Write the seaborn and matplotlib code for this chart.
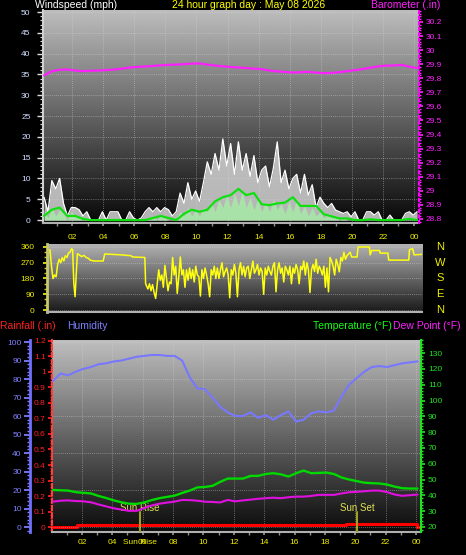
import numpy as np
import seaborn as sns
import matplotlib.pyplot as plt
import matplotlib.transforms as mtrans
from matplotlib.ticker import MultipleLocator, FuncFormatter

W, H = 466, 555

# --- wind, 15 minute samples starting 00:12 (mph) ---
gust_mph = [5.5, 2, 9.5, 7.5, 10, 4, 1, 3, 3, 2.5,
            1, 2, 0, 0, 0, 2, 0, 2, 2, 2,
            0, 0, 2, 0.5, 0, 0.5, 2, 3, 2, 3,
            2, 3, 2.5, 1, 2, 6.5, 4, 9, 5, 7,
            4.5, 9, 14, 11, 16, 12, 19.5, 13, 18.4, 11,
            18.8, 12, 16, 10.5, 15.5, 9, 12, 13, 8, 12.5,
            18.8, 9, 12, 7.5, 10, 11, 6.5, 11, 6, 8.5,
            3, 5.5, 4, 3, 4, 2.4, 2, 1.6, 2, 0.8,
            2, 0, 0, 2, 2, 1.2, 2, 0, 0, 1.2,
            0, 0, 0, 1.6, 2, 1.2, 2]
wind_mph = [2.5, 0.5, 3, 1, 2.5, 1.5, 0, 2, 1, 0.5,
            0, 0.5, 0, 0, 0, 0, 0, 0, 0, 0,
            0, 0, 0, 0, 0, 0, 0, 0.5, 1, 0,
            1, 0.5, 0, 0, 0.5, 2, 1, 3, 1, 2.5,
            1, 3, 2, 4.5, 2, 5, 3, 6, 3, 6.5,
            3.5, 7, 3, 5.5, 2.5, 5, 2, 4.5, 2, 5,
            2.5, 4, 1.5, 4.5, 2, 5, 1.5, 3.5, 1, 3,
            1, 2, 0.5, 1.5, 0.5, 1, 0, 0.5, 0, 0,
            0, 0, 0, 0, 0, 0, 0, 0, 0, 0,
            0, 0, 0, 0, 0, 0, 0]

# --- 30 minute samples starting 00:12 ---
avg_wind_mph = [1, 2.5, 3, 1, 1, 0.3, 0, 0, 0, 0,
                0, 0, 0, 0, 0.5, 1, 0.5, 0, 1.5, 2.5,
                2, 2.5, 4.5, 5.5, 6, 7.5, 6, 6.5, 3.8, 3.6,
                4, 4.2, 5.5, 3.4, 3.4, 3.4, 1.4, 0.9, 0.4, 0.4,
                0, 0, 0.2, 0, 0, 0, 0, 0.3, 0]
barometer_in = [29.82, 29.85, 29.86, 29.862, 29.855, 29.85, 29.853, 29.855, 29.858, 29.862,
                29.868, 29.876, 29.88, 29.884, 29.887, 29.892, 29.895, 29.897, 29.9, 29.904,
                29.905, 29.897, 29.89, 29.885, 29.88, 29.876, 29.873, 29.868, 29.865, 29.855,
                29.848, 29.845, 29.84, 29.843, 29.845, 29.84, 29.836, 29.838, 29.843, 29.85,
                29.858, 29.865, 29.875, 29.884, 29.89, 29.89, 29.895, 29.882, 29.872]

# --- wind direction (degrees) ---
dir_early_h = [0.15, 0.25, 0.35, 0.45, 0.55, 0.65, 0.75, 0.85, 0.95, 1.05,
               1.15, 1.25, 1.35, 1.45, 1.55, 1.62, 1.7, 1.78, 1.85, 1.93,
               2.05, 2.2, 2.35, 2.5, 2.65, 2.75, 3.0, 3.6, 3.7, 4.2,
               4.8, 5.4, 5.5, 6.3, 6.35]
dir_early_deg = [345, 250, 180, 200, 190, 260, 290, 270, 300, 280,
                 310, 300, 325, 330, 350, 345, 150, 76, 200, 322,
                 315, 305, 312, 300, 295, 285, 280, 280, 320, 318,
                 315, 310, 303, 300, 150]
# 6 minute samples from 06:24 to 19:36
dir_mid_deg = [140, 120, 150, 110, 145, 100,
               66, 150, 230, 170, 200, 130, 255, 180, 110, 160,
               150, 300, 200, 250, 95, 190, 303, 200, 230, 130,
               230, 170, 240, 180, 230, 160, 250, 200, 190, 80,
               230, 180, 240, 200, 150, 76, 230, 200, 250, 180,
               240, 180, 230, 270, 190, 220, 240, 200, 70, 230,
               200, 260, 210, 76, 230, 270, 200, 250, 190, 240,
               250, 180, 230, 280, 210, 230, 260, 200, 240, 220,
               90, 240, 200, 250, 220, 200, 250, 270, 104, 230,
               270, 210, 240, 160, 250, 230, 200, 250, 150, 240,
               210, 260, 230, 150, 250, 230, 280, 200, 270, 230,
               100, 230, 260, 220, 290, 210, 250, 230, 200, 250,
               130, 240, 104, 300, 280, 250, 200, 290, 260, 218,
               300, 280, 330, 290, 310, 320, 330]
dir_late_h = [19.7, 20.05, 20.12, 20.85, 20.9, 21.0, 21.5, 21.55, 22.05, 22.1,
              23.4, 23.45, 23.65, 23.75, 24.25]
dir_late_deg = [303, 303, 360, 360, 315, 340, 340, 325, 325, 285,
                285, 345, 350, 315, 318]

# --- 30 minute samples starting 00:06 ---
humidity_pct = [79, 83, 82, 84, 85.5, 86.5, 88, 88.5, 89.5, 90,
                91, 92, 92.5, 93, 93, 92.5, 92.5, 90, 81, 75,
                74.5, 70, 65, 62, 60, 60, 62, 59, 60.5, 58,
                60.5, 62.5, 57, 58, 61.5, 62.5, 62, 63, 70.5, 77,
                80.5, 84, 86.5, 87, 86.5, 87.5, 88.5, 89, 89.5]
temp_f = [43.4, 43.2, 43, 42, 41.6, 41.2, 39.6, 38.3, 36.8, 35.6,
          34.7, 34.6, 35.5, 37, 38.2, 39, 39.8, 41.5, 43, 45,
          45.3, 46, 48.5, 50.6, 50.6, 50.6, 52.3, 52.3, 53.5, 54,
          53.3, 51.9, 54, 55.7, 54, 54.2, 54.4, 53.5, 51.3, 50,
          49, 48, 47.7, 47.5, 46.8, 45.5, 44.5, 44.3, 44.3]
dew_f = [36, 36.6, 36.8, 36.4, 36.2, 35.6, 34.2, 33, 31.8, 31,
         30.2, 30.2, 32, 33.6, 34.7, 35.4, 36, 37.1, 37, 36.6,
         36, 35.8, 35.5, 37.1, 36.2, 36.8, 37.3, 37.8, 38.2, 38.5,
         38.2, 38.8, 39.2, 39.2, 39.6, 40.3, 40.3, 40.3, 41.2, 42,
         42.2, 42.6, 43, 43, 42, 40.5, 39.7, 40.1, 40.5]

rain_h = [0.05, 1.65, 19.4, 24.05, 24.3]
rain_in = [0, 0.01, 0.02, 0, 0]

sun_rise_h = 5.82
sun_set_h = 20.12

hour_ticks = list(range(2, 25, 2))
hour_labels = ['02', '04', '06', '08', '10', '12', '14', '16', '18', '20', '22', '00']
dir_ticks = [0, 90, 180, 270, 360]
compass = ['N', 'E', 'S', 'W', 'N']

# time axes for the sampled series
q_h = 0.2 + 0.25 * np.arange(len(gust_mph))
half_h = 0.2 + 0.5 * np.arange(len(avg_wind_mph))
th_h = 0.1 + 0.5 * np.arange(len(humidity_pct))
dir_h = np.concatenate([dir_early_h, 6.4 + 0.1 * np.arange(len(dir_mid_deg)), dir_late_h])
dir_deg = np.concatenate([dir_early_deg, dir_mid_deg, dir_late_deg])

sns.set_theme(style="dark", rc={"axes.facecolor": "black", "figure.facecolor": "black"})
plt.rcParams['font.family'] = ['Liberation Sans', 'DejaVu Sans']


def box(left, top, right, bottom):
    return [left / W, 1 - bottom / H, (right - left) / W, (bottom - top) / H]


def shade(ax, top, bottom):
    grad = np.linspace(top, bottom, 256).reshape(-1, 1)
    ax.imshow(grad, cmap='gray', vmin=0, vmax=1, aspect='auto',
              extent=(0, 1, 0, 1), transform=ax.transAxes, zorder=0)


def keep_spines(ax, keep):
    for name, sp in ax.spines.items():
        sp.set_visible(name in keep)


num_fmt = FuncFormatter(lambda v, p: f'{round(v, 2):g}')
grid_kw = dict(color='#d8d8d8', linestyle=(0, (1, 1.5)), linewidth=0.6, alpha=0.55)

fig = plt.figure(figsize=(W / 100, H / 100), dpi=100, facecolor='black')

# ---------------- panel 1: wind speed + barometer ----------------
ax1 = fig.add_axes(box(43, 10, 419, 223))
shade(ax1, 0.74, 0.03)
ax1.fill_between(q_h, gust_mph, 0, color='#d4d4d4', alpha=0.85, lw=0, zorder=2)
sns.lineplot(x=q_h, y=gust_mph, ax=ax1, color='white', lw=0.9, zorder=3, estimator=None)
ax1.fill_between(q_h, wind_mph, 0, color='#a8e8a8', alpha=0.9, lw=0, zorder=4)
sns.lineplot(x=half_h, y=avg_wind_mph, ax=ax1, color='#10e010', lw=1.6, zorder=5, estimator=None)
ax1.set_xlim(0.13, 24.32)
ax1.set_ylim(-0.7, 50.5)
ax1.yaxis.set_major_locator(MultipleLocator(5))
ax1.yaxis.set_minor_locator(MultipleLocator(1))
ax1.set_xticks(hour_ticks, hour_labels)
ax1.xaxis.set_minor_locator(MultipleLocator(1))
ax1.tick_params(axis='y', which='major', color='#e0e0e0', labelcolor='#d4e0ff',
                length=4, width=1, labelsize=6, pad=5, left=True)
ax1.tick_params(axis='y', which='minor', color='#e0e0e0', length=2, width=0.8, left=True)
ax1.tick_params(axis='x', which='both', color='#909090', labelcolor='#f0f000',
                length=2, labelsize=6, pad=6, bottom=True)
ax1.grid(True, which='major', **grid_kw)
ax1.set(xlabel='', ylabel='')
keep_spines(ax1, ['left', 'bottom'])
ax1.spines['left'].set_color('#d0d0d0')
ax1.spines['left'].set_linewidth(1.5)
ax1.spines['bottom'].set_color('#b0b0b0')
ax1.spines['bottom'].set_linewidth(1.5)

ax1b = ax1.twinx()
sns.lineplot(x=half_h, y=barometer_in, ax=ax1b, color='#ff20ff', lw=1.6, estimator=None)
ax1b.set_ylim(28.771, 30.285)
ax1b.yaxis.set_major_locator(MultipleLocator(0.1))
ax1b.yaxis.set_minor_locator(MultipleLocator(0.02))
ax1b.yaxis.set_major_formatter(num_fmt)
ax1b.tick_params(axis='y', which='major', colors='#ff20ff', length=3, labelsize=6, pad=1.5, right=True)
ax1b.tick_params(axis='y', which='minor', colors='#ff20ff', length=1.5, right=True)
ax1b.grid(False)
ax1b.set(xlabel='', ylabel='')
keep_spines(ax1b, ['right'])
ax1b.spines['right'].set_color('#ff00ff')
ax1b.spines['right'].set_linestyle(':')
ax1b.spines['right'].set_linewidth(1.5)

# ---------------- panel 2: wind direction ----------------
ax2 = fig.add_axes(box(47, 244, 422, 312))
shade(ax2, 0.70, 0.10)
sns.lineplot(x=dir_h, y=dir_deg, ax=ax2, color='#ffff10', lw=1.1, zorder=3,
             estimator=None, sort=False)
ax2.set_xlim(-0.04, 24.26)
ax2.set_ylim(-11.4, 377)
ax2.set_yticks(dir_ticks, [str(d) for d in dir_ticks])
ax2.yaxis.set_minor_locator(MultipleLocator(30))
ax2.set_xticks([])
ax2.tick_params(axis='y', which='major', colors='#f0f000', length=3, labelsize=6, pad=6, left=True)
ax2.tick_params(axis='y', which='minor', colors='#d0d000', length=2, left=True)
ax2.grid(True, axis='y', which='major', **grid_kw)
ax2.set(xlabel='', ylabel='')
keep_spines(ax2, ['left', 'bottom'])
ax2.spines['left'].set_color('#c8c870')
ax2.spines['left'].set_linewidth(2)
ax2.spines['bottom'].set_color('#b0b0b0')
ax2.spines['bottom'].set_linewidth(1.5)
side = mtrans.blended_transform_factory(ax2.transAxes, ax2.transData)
for d, letter in zip(dir_ticks, compass):
    ax2.text(1.048, d, letter, transform=side, color='#f0f000', fontsize=8,
             ha='center', va='center', clip_on=False)

# ---------------- panel 3: rain, humidity, temperature ----------------
ax3 = fig.add_axes(box(52, 340, 421, 532))
shade(ax3, 0.75, 0.04)
sns.lineplot(x=rain_h, y=rain_in, ax=ax3, color='#ff0000', lw=2.2, zorder=4,
             estimator=None, drawstyle='steps-post')
ax3.set_xlim(0.03, 24.33)
ax3.set_ylim(-0.032, 1.206)
ax3.yaxis.set_major_locator(MultipleLocator(0.1))
ax3.yaxis.set_minor_locator(MultipleLocator(0.02))
ax3.yaxis.set_major_formatter(num_fmt)
ax3.set_xticks(hour_ticks, hour_labels)
ax3.xaxis.set_minor_locator(MultipleLocator(1))
ax3.tick_params(axis='y', which='major', colors='#ff2020', length=3, labelsize=6, pad=1.5, left=True)
ax3.tick_params(axis='y', which='minor', colors='#ff2020', length=1.5, left=True)
ax3.tick_params(axis='x', which='both', color='#909090', labelcolor='#f0f000',
                length=2, labelsize=6, pad=3, bottom=True)
ax3.grid(True, axis='x', which='major', **grid_kw)
ax3.set(xlabel='', ylabel='')
keep_spines(ax3, ['left', 'bottom'])
ax3.spines['left'].set_color('#ff4040')
ax3.spines['left'].set_linestyle((0, (2, 1.5)))
ax3.spines['left'].set_linewidth(1.5)
ax3.spines['bottom'].set_color('#b0b0b0')
ax3.spines['bottom'].set_linewidth(1.5)

ax3h = ax3.twinx()
sns.lineplot(x=th_h, y=humidity_pct, ax=ax3h, color='#7878ff', lw=1.5, estimator=None)
ax3h.set_ylim(-2.7, 101.1)
ax3h.yaxis.tick_left()
ax3h.yaxis.set_major_locator(MultipleLocator(10))
ax3h.yaxis.set_minor_locator(MultipleLocator(2))
ax3h.tick_params(axis='y', which='major', colors='#8080ff', length=4, labelsize=6, pad=2, left=True, right=False)
ax3h.tick_params(axis='y', which='minor', colors='#8080ff', length=2, left=True, right=False)
for v in range(0, 101, 20):
    ax3h.axhline(v, zorder=1, **grid_kw)
ax3h.grid(False)
ax3h.set(xlabel='', ylabel='')
keep_spines(ax3h, ['left'])
ax3h.spines['left'].set_position(('axes', (30 - 52) / 369))
ax3h.spines['left'].set_color('#7070ff')
ax3h.spines['left'].set_linewidth(2)

ax3t = ax3.twinx()
sns.lineplot(x=th_h, y=temp_f, ax=ax3t, color='#00d800', lw=1.7, estimator=None)
sns.lineplot(x=th_h, y=dew_f, ax=ax3t, color='#e010e0', lw=1.5, estimator=None)
ax3t.set_ylim(16.8, 138.3)
ax3t.yaxis.set_major_locator(MultipleLocator(10))
ax3t.yaxis.set_minor_locator(MultipleLocator(2))
ax3t.tick_params(axis='y', which='major', colors='#20e020', length=3, labelsize=6, pad=2, right=True)
ax3t.tick_params(axis='y', which='minor', colors='#20e020', length=1.5, right=True)
ax3t.grid(False)
ax3t.set(xlabel='', ylabel='')
keep_spines(ax3t, ['right'])
ax3t.spines['right'].set_color('#20e020')
ax3t.spines['right'].set_linewidth(1.5)

sun_tr = mtrans.blended_transform_factory(ax3.transData, ax3.transAxes)
for h, name in [(sun_rise_h, 'Sun Rise'), (sun_set_h, 'Sun Set')]:
    ax3.plot([h, h], [0, 0.105], transform=sun_tr, color='#a0a020', lw=1.5, zorder=5)
    ax3.text(h, 0.125, name, transform=sun_tr, color='#e0e050', fontsize=7,
             ha='center', va='center', zorder=6)
ax3.text(sun_rise_h, -0.055, 'Sun Rise', transform=sun_tr, color='#f0f000', fontsize=6,
         ha='center', va='center', clip_on=False)

# ---------------- header texts ----------------
def header(x, y, s, color, ha='left'):
    fig.text(x / W, 1 - y / H, s, color=color, fontsize=7.5, ha=ha, va='center')


header(35, 5, 'Windspeed (mph)', 'white')
header(172, 5, '24 hour graph day : May 08 2026', '#ffff00')
header(371, 5, 'Barometer (.in)', '#ff20ff')
header(0, 326, 'Rainfall (.in)', '#ff2020')
header(67, 326, 'Humidity', '#8080ff')
header(392, 326, 'Temperature (°F)', '#10ff10', ha='right')
header(393, 326, 'Dew Point (°F)', '#ff20ff')

fig.savefig('out.png', dpi=100, facecolor='black')
